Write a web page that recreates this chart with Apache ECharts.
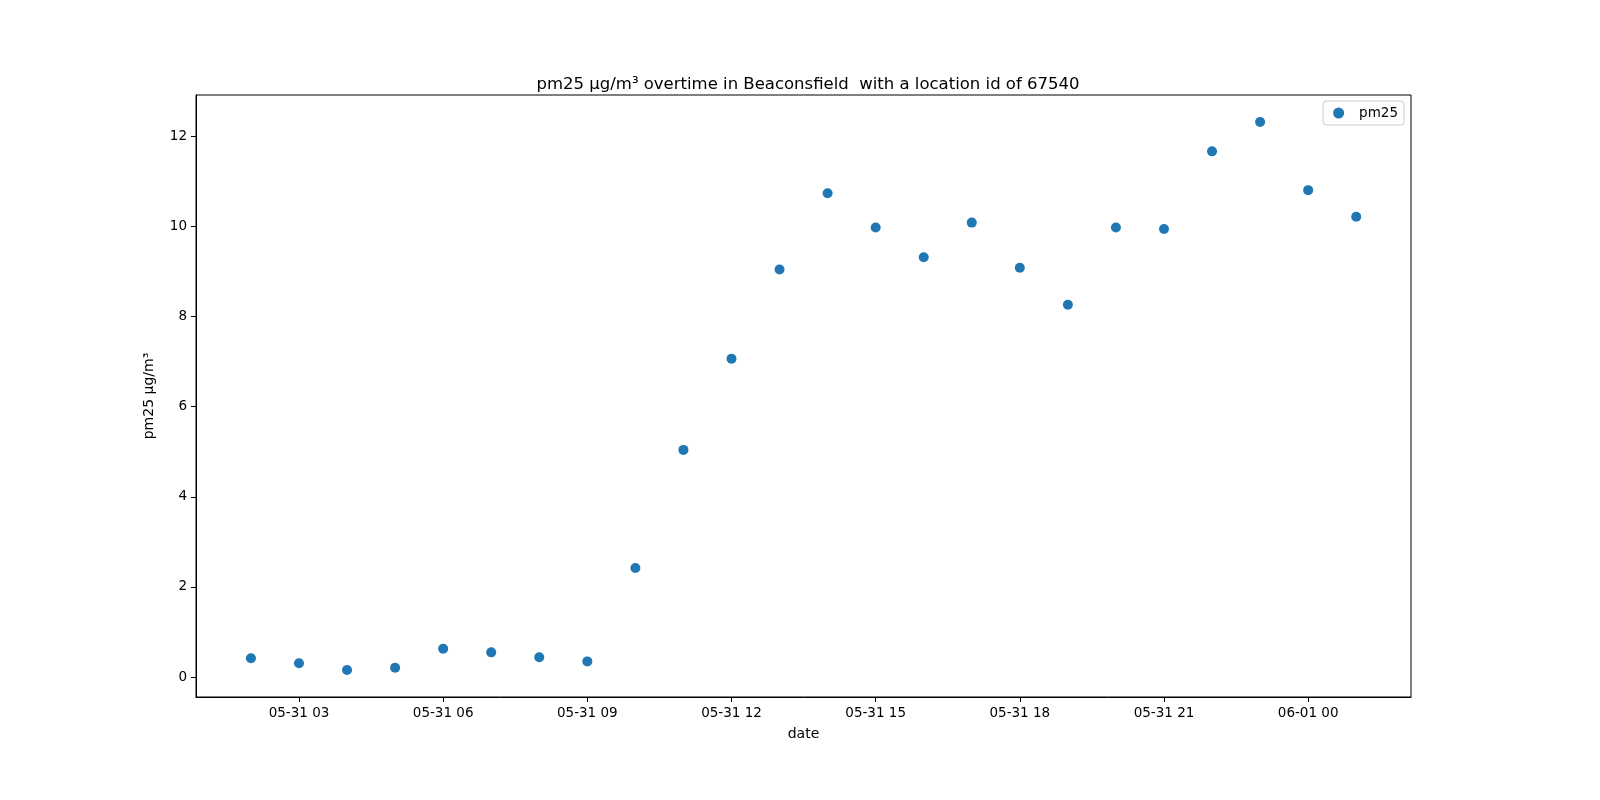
<!DOCTYPE html>
<html><head><meta charset="utf-8">
<script src="https://cdn.jsdelivr.net/npm/echarts@6/dist/echarts.min.js"></script>
<style>html,body{margin:0;background:#fff}#c{width:1600px;height:800px}</style>
</head><body><div id="c"></div>
<script>
// hours since 05-31 00:00
const hours = [2,3,4,5,6,7,8,9,10,11,12,13,14,15,16,17,18,19,20,21,22,23,24,25];
const pm25 = [0.42,0.31,0.16,0.21,0.63,0.55,0.44,0.35,2.42,5.04,7.06,9.04,10.73,9.97,9.31,10.08,9.08,8.26,9.97,9.94,11.66,12.31,10.80,10.21];
const tickHours = [3,6,9,12,15,18,21,24];
const tickLabels = ['05-31 03','05-31 06','05-31 09','05-31 12','05-31 15','05-31 18','05-31 21','06-01 00'];
const yTicks = [0,2,4,6,8,10,12];
const font = 'DejaVu Sans';
const chart = echarts.init(document.getElementById('c'));
chart.setOption({
  animation:false,
  textStyle:{fontFamily:font},
  title:{text:'pm25 µg/m³ overtime in Beaconsfield  with a location id of 67540',left:803,top:71,textAlign:'center',
    textStyle:{fontFamily:font,fontSize:16.5,fontWeight:'normal',color:'#000'}},
  legend:{right:196,top:101,orient:'vertical',itemWidth:11,itemHeight:11,itemGap:10,padding:[5,6,5,10],
    borderColor:'#ccc',borderWidth:1,borderRadius:3,textStyle:{fontFamily:font,fontSize:13.5,color:'#000',padding:[0,0,0,10]},data:['pm25']},
  grid:{left:196,right:189,top:95,bottom:103},
  xAxis:{type:'value',min:0.857,max:26.14,name:'date',nameLocation:'middle',nameGap:30,
    nameTextStyle:{fontFamily:font,fontSize:14,color:'#000'},
    axisLine:{show:true,onZero:false,lineStyle:{color:'#000'}},splitLine:{show:false},
    axisTick:{show:true,length:5,customValues:tickHours,lineStyle:{color:'#000'}},
    axisLabel:{customValues:tickHours,color:'#000',fontSize:13.5,fontFamily:font,margin:9,
      formatter:v=>tickLabels[tickHours.indexOf(Math.round(v))]}},
  yAxis:{type:'value',min:-0.44,max:12.91,name:'pm25 µg/m³',nameLocation:'middle',nameGap:40,
    nameTextStyle:{fontFamily:font,fontSize:14,color:'#000'},
    axisLine:{show:true,onZero:false,lineStyle:{color:'#000'}},splitLine:{show:false},
    axisTick:{show:true,length:5,customValues:yTicks,lineStyle:{color:'#000'}},
    axisLabel:{customValues:yTicks,color:'#000',fontSize:13.5,fontFamily:font,margin:9}},
  series:[{name:'pm25',type:'scatter',symbolSize:10,itemStyle:{color:'#1f77b4',opacity:1},
    data:hours.map((h,i)=>[h,pm25[i]])}],
  graphic:[{type:'rect',shape:{x:196,y:95,width:1215,height:602},style:{fill:'none',stroke:'#000',lineWidth:1},silent:true}]
});
</script></body></html>
